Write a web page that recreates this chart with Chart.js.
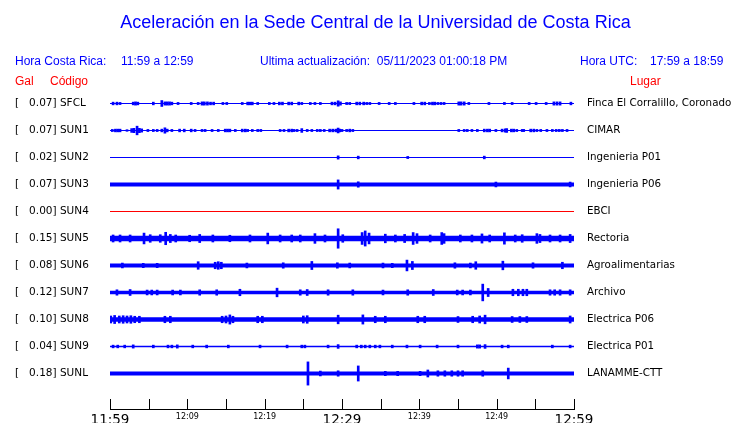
<!DOCTYPE html>
<html>
<head>
<meta charset="utf-8">
<script src="https://cdn.jsdelivr.net/npm/chart.js@4"></script>
<style>
  html, body { margin: 0; padding: 0; background: #fff; }
  #wrap { width: 740px; height: 423px; }
</style>
</head>
<body>
<div id="wrap"><canvas id="sismo" width="740" height="423"></canvas></div>
<script>
// Estaciones (de arriba a abajo)
const codes = ['SFCL', 'SUN1', 'SUN2', 'SUN3', 'SUN4', 'SUN5', 'SUN6', 'SUN7', 'SUN8', 'SUN9', 'SUNL'];
const galMax = [0.07, 0.07, 0.02, 0.07, 0.00, 0.15, 0.08, 0.12, 0.10, 0.04, 0.18];
const places = ['Finca El Corralillo, Coronado', 'CIMAR', 'Ingenieria P01', 'Ingenieria P06', 'EBCI',
  'Rectoria', 'Agroalimentarias', 'Archivo', 'Electrica P06', 'Electrica P01', 'LANAMME-CTT'];

// nivel de ruido de fondo (semi-amplitud, en fracciones de la separacion entre trazas)
const noise = [0.02, 0.02, 0.02, 0.075, 0.02, 0.10, 0.07, 0.065, 0.08, 0.03, 0.075];

// picos: [minuto desde 11:59, semi-amplitud]
const sfcl = [[0.4,.05],[0.9,.05],[1.3,.04],[3.0,.05],[3.3,.06],[3.6,.05],[5.6,.05],[6.7,.11],[7.1,.06],[7.4,.06],[7.7,.06],[8.0,.05],[8.8,.04],[10.5,.04],[11.4,.04],[11.9,.06],[12.2,.06],[12.6,.06],[13.0,.05],[13.4,.05],[14.6,.04],[15.1,.04],[17.1,.04],[17.8,.05],[18.1,.05],[18.4,.05],[19.1,.04],[20.6,.04],[21.2,.04],[21.9,.05],[22.3,.05],[23.1,.05],[23.5,.05],[24.4,.05],[24.8,.04],[25.9,.04],[26.5,.04],[27.2,.04],[28.7,.05],[29.1,.05],[29.5,.10],[29.8,.06],[30.6,.04],[31.0,.04],[31.9,.05],[32.3,.05],[32.8,.05],[33.2,.04],[33.6,.04],[34.8,.04],[36.1,.04],[36.9,.04],[39.3,.04],[40.3,.05],[40.7,.05],[41.3,.04],[41.7,.05],[42.0,.05],[42.4,.04],[42.8,.04],[43.2,.04],[45.1,.06],[45.4,.06],[45.8,.06],[46.4,.04],[49.0,.04],[51.0,.04],[52.0,.04],[54.2,.04],[55.1,.04],[56.4,.04],[57.4,.06],[57.8,.06],[58.2,.06],[59.6,.05]];
const sun1 = [[0.3,.04],[0.7,.05],[1.0,.05],[1.3,.05],[2.2,.03],[2.8,.07],[3.1,.08],[3.5,.16],[3.8,.08],[4.1,.06],[4.9,.04],[5.6,.04],[6.1,.04],[6.7,.05],[7.1,.10],[7.4,.05],[8.0,.04],[9.0,.05],[9.6,.05],[10.5,.05],[11.0,.04],[11.9,.04],[12.3,.04],[13.2,.04],[14.0,.04],[14.9,.05],[15.2,.05],[15.5,.05],[16.2,.04],[17.1,.05],[17.5,.05],[17.8,.04],[18.4,.04],[19.1,.04],[19.5,.04],[22.0,.04],[22.5,.04],[23.1,.05],[23.5,.05],[23.8,.04],[24.2,.04],[24.8,.07],[25.5,.04],[26.1,.04],[26.8,.04],[27.2,.04],[27.7,.04],[28.4,.05],[28.8,.05],[29.2,.05],[29.5,.09],[29.7,.05],[30.0,.04],[30.6,.04],[31.0,.05],[31.4,.04],[45.1,.04],[45.8,.04],[46.2,.04],[46.8,.04],[47.5,.04],[48.4,.05],[48.8,.05],[49.1,.05],[49.9,.04],[50.7,.05],[51.1,.06],[51.3,.07],[51.9,.05],[52.2,.05],[52.6,.04],[53.3,.04],[53.5,.04],[54.4,.05],[54.8,.05],[55.2,.04],[55.7,.04],[56.5,.04],[57.2,.04],[57.7,.04],[58.1,.04],[58.5,.04],[59.1,.04]];
const sun2 = [[29.5,.06],[32.1,.05],[38.5,.04],[48.4,.05]];
const sun3 = [[29.5,.17],[32.1,.10],[49.9,.09],[59.5,.09]];
const sun4 = [];
const sun5 = [[0.4,.13],[1.3,.13],[2.6,.13],[4.4,.20],[5.2,.14],[6.5,.14],[7.2,.23],[7.8,.15],[8.5,.13],[10.3,.12],[11.6,.15],[13.3,.13],[15.5,.12],[18.1,.13],[20.4,.20],[22.0,.13],[23.5,.13],[24.6,.13],[26.5,.18],[27.8,.13],[29.5,.36],[30.1,.14],[32.6,.22],[33.0,.28],[33.5,.20],[35.6,.16],[36.9,.13],[38.1,.15],[39.2,.22],[39.7,.18],[41.4,.13],[42.9,.22],[43.2,.18],[45.3,.13],[46.8,.13],[48.1,.17],[49.1,.13],[51.0,.21],[52.4,.13],[53.3,.14],[55.2,.18],[55.6,.15],[56.9,.13],[58.2,.13],[59.5,.15]];
const sun6 = [[1.6,.09],[4.3,.08],[6.1,.08],[11.4,.14],[13.6,.12],[14.0,.14],[14.4,.12],[17.7,.09],[22.4,.10],[26.1,.15],[29.4,.10],[31.0,.09],[35.3,.09],[36.5,.08],[38.4,.20],[39.1,.15],[44.6,.10],[46.6,.09],[47.3,.14],[50.8,.16],[54.7,.10],[58.5,.12]];
const sun7 = [[0.9,.10],[2.6,.11],[4.8,.09],[5.4,.09],[6.1,.09],[8.1,.09],[9.1,.09],[11.6,.10],[13.8,.10],[16.8,.12],[21.6,.16],[24.6,.10],[25.5,.11],[28.2,.10],[31.4,.10],[35.3,.09],[38.5,.10],[41.8,.11],[44.9,.09],[45.6,.09],[46.6,.09],[48.2,.31],[48.9,.15],[52.1,.12],[52.8,.12],[53.4,.12],[53.9,.12],[56.9,.10],[57.5,.10],[58.2,.10],[59.5,.10]];
const sun8 = [[0.1,.13],[0.6,.15],[1.2,.13],[1.7,.14],[2.2,.13],[2.7,.14],[3.2,.12],[3.8,.12],[7.1,.12],[7.8,.12],[14.5,.12],[15.0,.13],[15.5,.17],[15.9,.12],[19.1,.12],[19.7,.12],[25.0,.13],[25.5,.14],[29.5,.16],[32.7,.17],[34.3,.12],[35.6,.12],[39.8,.12],[40.7,.12],[45.0,.11],[46.9,.12],[47.8,.13],[48.5,.16],[52.0,.11],[53.0,.11],[53.9,.11],[59.5,.13]];
const sun9 = [[0.4,.05],[1.0,.05],[1.9,.05],[3.0,.06],[5.6,.05],[7.5,.05],[8.0,.05],[8.7,.06],[10.7,.05],[12.5,.05],[15.3,.05],[19.4,.05],[22.9,.05],[24.8,.05],[25.2,.05],[28.2,.05],[29.5,.07],[31.9,.05],[32.5,.05],[33.0,.05],[33.6,.05],[34.3,.05],[34.9,.05],[36.5,.05],[38.4,.05],[40.1,.05],[42.3,.05],[45.0,.05],[47.5,.06],[47.8,.06],[48.5,.07],[50.7,.05],[51.5,.05],[57.2,.05],[59.5,.05]];
const sunl = [[25.6,.43],[27.2,.09],[29.5,.10],[32.1,.28],[35.6,.08],[37.2,.08],[40.1,.08],[41.1,.13],[42.4,.10],[43.3,.10],[44.2,.10],[45.0,.10],[45.6,.10],[48.2,.10],[51.5,.20]];
const spikes = [sfcl, sun1, sun2, sun3, sun4, sun5, sun6, sun7, sun8, sun9, sunl];

// eje de tiempo: marcas cada 5 minutos, etiquetas cada 10
const tickLabels = ['11:59', '', '12:09', '', '12:19', '', '12:29', '', '12:39', '', '12:49', '', '12:59'];
const bigTicks = ['11:59', '12:29', '12:59'];

const BLUE = '#0000ff';
const RED = '#ff0000';
const traceColor = (i) => codes[i] === 'SUN4' ? RED : BLUE;

const datasets = [];
codes.forEach((code, i) => {
  // linea base (ruido de fondo)
  datasets.push({
    type: 'line',
    data: [{ x: 0, y: i }, { x: 60, y: i }],
    borderColor: traceColor(i),
    borderWidth: (ctx) => {
      const y = ctx.chart.scales.y;
      if (!y) return 1;
      return Math.max(1, Math.abs(y.getPixelForValue(2 * noise[i]) - y.getPixelForValue(0)));
    },
    pointRadius: 0,
    tension: 0
  });
  // picos
  datasets.push({
    type: 'bar',
    data: spikes[i].map(([m, a]) => ({ x: m, y: [i - a, i + a] })),
    backgroundColor: traceColor(i),
    borderWidth: 0,
    barThickness: 2,
    grouped: false
  });
});

// textos de cabecera
const header = {
  id: 'header',
  afterDraw(chart) {
    const c = chart.ctx;
    c.save();
    c.textBaseline = 'alphabetic';
    c.fillStyle = BLUE;
    c.font = '18px "Liberation Sans", Arial, sans-serif';
    c.textAlign = 'center';
    c.fillText('Aceleración en la Sede Central de la Universidad de Costa Rica', 375.5, 28);
    c.textAlign = 'left';
    c.font = '12px "Liberation Sans", Arial, sans-serif';
    c.fillText('Hora Costa Rica:', 15, 65);
    c.fillText('11:59 a 12:59', 121, 65);
    c.fillText('Ultima actualización:  05/11/2023 01:00:18 PM', 260, 65);
    c.fillText('Hora UTC:', 580, 65);
    c.fillText('17:59 a 18:59', 650, 65);
    c.fillStyle = RED;
    c.fillText('Gal', 15, 85);
    c.fillText('Código', 50, 85);
    c.fillText('Lugar', 630, 85);
    c.restore();
  }
};

// marcas del eje x hacia arriba
const upTicks = {
  id: 'upTicks',
  afterDraw(chart) {
    const x = chart.scales.x;
    const c = chart.ctx;
    const bottom = Math.round(chart.chartArea.bottom);
    c.save();
    c.strokeStyle = '#000';
    c.lineWidth = 1;
    c.beginPath();
    x.ticks.forEach(t => {
      const px = Math.round(x.getPixelForValue(t.value)) + 0.5;
      c.moveTo(px, bottom);
      c.lineTo(px, bottom - 10);
    });
    c.moveTo(x.left, bottom + 0.5);
    c.lineTo(x.right + 1, bottom + 0.5);
    c.stroke();
    c.restore();
  }
};

const rowTicks = (scale) => { scale.ticks = codes.map((_, i) => ({ value: i })); };
// los ejes verticales no deben reservar margen extra arriba/abajo
const noVPad = (width) => (s) => { s.width = width; s.paddingTop = 0; s.paddingBottom = 0; };

new Chart(document.getElementById('sismo'), {
  data: { datasets },
  options: {
    responsive: false,
    animation: false,
    layout: { padding: { left: 15, top: 90, right: 0, bottom: 0 } },
    plugins: { legend: { display: false }, tooltip: { enabled: false }, title: { display: false } },
    scales: {
      x: {
        type: 'linear',
        min: 0,
        max: 60,
        offset: false,
        grid: { display: false, drawTicks: false },
        border: { display: false },
        afterFit: (s) => { s.height = 14; },
        ticks: {
          stepSize: 5,
          autoSkip: false,
          maxRotation: 0,
          padding: 3,
          color: '#000',
          callback: (v) => tickLabels[Math.round(v / 5)],
          font: (ctx) => ({
            family: '"DejaVu Sans", sans-serif',
            size: bigTicks.includes(tickLabels[Math.round((ctx.tick ? ctx.tick.value : 0) / 5)]) ? 13.5 : 8
          })
        }
      },
      y: {
        type: 'linear',
        position: 'left',
        reverse: true,
        min: -0.5,
        max: 11.315,
        grid: { display: false, drawTicks: false },
        border: { display: false },
        afterBuildTicks: rowTicks,
        afterFit: noVPad(95),
        ticks: {
          crossAlign: 'far',
          color: '#000',
          font: { family: '"DejaVu Sans", sans-serif', size: 10.5 },
          callback: (v) => '[   ' + galMax[v].toFixed(2) + '] ' + codes[v]
        }
      },
      y2: {
        type: 'linear',
        position: 'right',
        reverse: true,
        min: -0.5,
        max: 11.315,
        grid: { display: false, drawTicks: false },
        border: { display: false },
        afterBuildTicks: rowTicks,
        afterFit: noVPad(166),
        ticks: {
          crossAlign: 'near',
          padding: 13,
          color: '#000',
          font: { family: '"DejaVu Sans", sans-serif', size: 10.3 },
          callback: (v) => places[v]
        }
      }
    }
  },
  plugins: [header, upTicks]
});
</script>
</body>
</html>
